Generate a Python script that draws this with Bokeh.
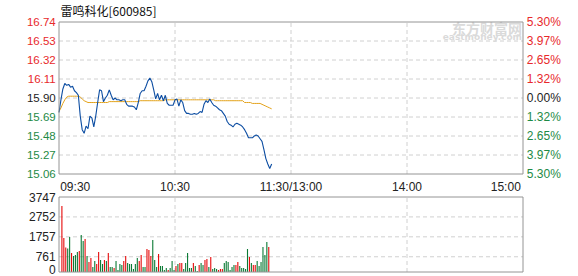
from bokeh.plotting import figure
from bokeh.models import ColumnDataSource, Range1d
from bokeh.core.properties import value
from bokeh.embed import file_html
from bokeh.resources import INLINE

# ---- data -------------------------------------------------------------
title = "雷鸣科化[600985]"
prev_close = 15.90

price_ticks = [16.74, 16.53, 16.32, 16.11, 15.90, 15.69, 15.48, 15.27, 15.06]
pct_labels = ["5.30%", "3.97%", "2.65%", "1.32%", "0.00%",
              "1.32%", "2.65%", "3.97%", "5.30%"]
time_ticks = [0, 60, 120, 180, 240]          # minutes of trading since 09:30
time_labels = ["09:30", "10:30", "11:30/13:00", "14:00", "15:00"]
vol_ticks = [3747, 2752, 1757, 761, 0]

# last trade price per minute, 09:30 .. 11:20
price = [
    15.74, 15.88, 16.00, 16.06, 16.04, 16.05, 16.02, 16.03, 15.98, 15.96,
    15.93, 15.70, 15.55, 15.51, 15.59, 15.56, 15.70, 15.68, 15.58, 15.70,
    15.85, 15.99, 15.98, 15.86, 15.90, 15.93, 15.99, 15.93, 15.88, 15.90,
    15.88, 15.88, 15.87, 15.88, 15.88, 15.83, 15.81, 15.81, 15.81, 15.80,
    15.77, 15.85, 15.95, 15.98, 15.98, 16.03, 16.09, 16.12, 16.08, 15.99,
    15.89, 15.95, 15.88, 15.93, 15.87, 15.93, 15.84, 15.82, 15.82, 15.82,
    15.88, 15.89, 15.81, 15.88, 15.85, 15.76, 15.73, 15.73, 15.72, 15.72,
    15.73, 15.72, 15.73, 15.75, 15.74, 15.83, 15.87, 15.85, 15.89, 15.85,
    15.82, 15.81, 15.79, 15.77, 15.76, 15.73, 15.70, 15.64, 15.61, 15.60,
    15.58, 15.61, 15.62, 15.61, 15.60, 15.58, 15.55, 15.51, 15.46, 15.46,
    15.46, 15.48, 15.49, 15.48, 15.45, 15.42, 15.33, 15.23, 15.17, 15.12,
    15.17,
]

# running average price per minute
avg_price = [
    15.75, 15.79, 15.84, 15.88, 15.91, 15.92, 15.92, 15.92, 15.92, 15.92,
    15.92, 15.91, 15.89, 15.87, 15.86, 15.85, 15.85, 15.85, 15.85, 15.85,
    15.85, 15.85, 15.85, 15.85, 15.85, 15.85, 15.86, 15.86, 15.86, 15.86,
    15.86, 15.86, 15.86, 15.86, 15.86, 15.86, 15.86, 15.86, 15.86, 15.86,
    15.86, 15.86, 15.87, 15.87, 15.87, 15.87, 15.87, 15.87, 15.87, 15.87,
    15.87, 15.87, 15.87, 15.87, 15.87, 15.88, 15.88, 15.88, 15.88, 15.88,
    15.88, 15.88, 15.88, 15.88, 15.88, 15.88, 15.88, 15.88, 15.88, 15.88,
    15.88, 15.88, 15.88, 15.88, 15.88, 15.88, 15.88, 15.88, 15.88, 15.88,
    15.88, 15.87, 15.87, 15.87, 15.87, 15.87, 15.87, 15.87, 15.87, 15.87,
    15.87, 15.87, 15.87, 15.87, 15.87, 15.87, 15.85, 15.85, 15.85, 15.85,
    15.84, 15.84, 15.84, 15.84, 15.84, 15.83, 15.82, 15.81, 15.80, 15.79,
    15.78,
]

# traded volume per minute (lots), minutes 1..108
volume = [
    3300, 1700, 1230, 1180, 1750, 950, 800, 850, 1000, 1050,
    1850, 1550, 1650, 800, 500, 700, 250, 550, 400, 1000,
    600, 400, 600, 550, 950, 250, 250, 200, 550, 100,
    400, 350, 550, 800, 450, 400, 400, 150, 400, 700,
    550, 850, 250, 250, 1150, 1100, 800, 1600, 600, 250,
    900, 300, 300, 100, 200, 100, 200, 550, 100, 300,
    400, 450, 450, 150, 450, 950, 200, 200, 450, 300,
    50, 350, 450, 350, 600, 650, 250, 750, 150, 200,
    150, 100, 150, 150, 450, 550, 500, 100, 250, 350,
    350, 500, 300, 200, 200, 150, 1150, 750, 450, 350,
    350, 550, 300, 500, 1250, 850, 1500, 1250,
]
# u = price ticked up in that minute, d = ticked down (one letter per bar)
vol_dir = "".join([
    "uuuddudddu",
    "dduduudduu",
    "ddududdudd",
    "dduudddddd",
    "uudduuuddd",
    "uddddudddu",
    "duudddddud",
    "dudduududd",
    "duuudddddd",
    "uudddddudu",
    "uddddddu",
])

# ---- styling ----------------------------------------------------------
RED = "#e8292b"
GREEN = "#1e8a46"
DARK = "#222222"
BAR_RED = "#e60a0a"
BAR_GREEN = "#0b7a35"
BLUE = "#0c4da2"
ORANGE = "#e3a21a"
FRAME = "#949494"
GRID = "#d0d0d0"
MARK = "#dadada"
FONT = "Liberation Sans"

W, H = 578, 276
N_MIN = 240
# panel boxes on the page (pixel centres of the border lines)
LEFT, RIGHT = 58.5, 522.5
P_TOP, P_BOT = 21.5, 173.5
V_TOP, V_BOT = 196.5, 271.5

kx = (RIGHT - LEFT) / N_MIN                                  # px per minute
ky = (P_BOT - P_TOP) / (price_ticks[0] - price_ticks[-1])     # px per yuan
kv = (V_BOT - V_TOP) / vol_ticks[0]                           # px per lot

x_range = Range1d(-LEFT / kx, (W - LEFT) / kx)
y_range = Range1d(price_ticks[0] - (H - P_TOP) / ky, price_ticks[0] + P_TOP / ky)
vol_range = Range1d(vol_ticks[0] - (H - V_TOP) / kv, vol_ticks[0] + V_TOP / kv)

p = figure(width=W, height=H, x_range=x_range, y_range=y_range,
           x_axis_type=None, y_axis_type=None,
           output_backend="svg", toolbar_location=None,
           min_border=0, min_border_left=0, min_border_right=0,
           min_border_top=0, min_border_bottom=0)
p.extra_y_ranges = {"vol": vol_range}
p.outline_line_color = None
p.background_fill_color = "white"
p.border_fill_color = "white"


def tone(v):
    if v > prev_close + 1e-9:
        return RED
    if v < prev_close - 1e-9:
        return GREEN
    return DARK


def dx(px):
    return px / kx


# ---- grids ------------------------------------------------------------
inner_t = time_ticks[1:-1]
p.segment(x0=[0] * 7, x1=[N_MIN] * 7, y0=price_ticks[1:-1], y1=price_ticks[1:-1],
          line_color=GRID, line_dash="4 3", line_width=1)
p.segment(x0=inner_t, x1=inner_t, y0=[price_ticks[-1]] * 3, y1=[price_ticks[0]] * 3,
          line_color=GRID, line_dash="4 3", line_width=1)
p.segment(x0=[0] * 3, x1=[N_MIN] * 3, y0=vol_ticks[1:-1], y1=vol_ticks[1:-1],
          line_color=GRID, line_dash="4 3", line_width=1, y_range_name="vol")
p.segment(x0=inner_t, x1=inner_t, y0=[0] * 3, y1=[vol_ticks[0]] * 3,
          line_color=GRID, line_dash="4 3", line_width=1, y_range_name="vol")

# faint site mark in the top-right corner
p.text(x=[N_MIN - dx(1)], y=[price_ticks[0] - 6 / ky], text=["东方财富网"],
       text_color=MARK, text_align="right", text_baseline="middle",
       text_font=value("Noto Sans CJK SC"), text_font_size=value("14px"),
       text_font_style="bold")
p.text(x=[N_MIN - dx(1)], y=[price_ticks[0] - 14.5 / ky], text=["eastmoney.com"],
       text_color=MARK, text_align="right", text_baseline="middle",
       text_font=value("DejaVu Sans"), text_font_size=value("9px"),
       text_font_style="bold")

# ---- price and average lines -----------------------------------------
src = ColumnDataSource(dict(t=list(range(len(price))), price=price, avg=avg_price))
p.line("t", "avg", source=src, line_color=ORANGE, line_width=1)
p.line("t", "price", source=src, line_color=BLUE, line_width=1.1)

# ---- volume bars -----------------------------------------------------
vol_src = ColumnDataSource(dict(
    x=[i + 1.5 for i in range(len(volume))], top=volume,
    color=[BAR_RED if d == "u" else BAR_GREEN for d in vol_dir]))
p.vbar(x="x", top="top", bottom=0, width=dx(1.1), source=vol_src,
       fill_color="color", line_color=None, y_range_name="vol")

# ---- panel borders ----------------------------------------------------
p.quad(left=0, right=N_MIN, bottom=price_ticks[-1], top=price_ticks[0],
       fill_color=None, line_color=FRAME, line_width=1)
p.quad(left=0, right=N_MIN, bottom=0, top=vol_ticks[0],
       fill_color=None, line_color=FRAME, line_width=1, y_range_name="vol")

# ---- scale labels -----------------------------------------------------
left_src = ColumnDataSource(dict(
    x=[dx(-3.3)] * len(price_ticks), y=price_ticks,
    text=[f"{v:.2f}" for v in price_ticks], color=[tone(v) for v in price_ticks]))
p.text("x", "y", text="text", source=left_src, text_color="color",
       text_align="right", text_baseline="middle",
       text_font=value(FONT), text_font_size=value("11.5px"))

right_src = ColumnDataSource(dict(
    x=[N_MIN + dx(3.8)] * len(price_ticks), y=price_ticks,
    text=pct_labels, color=[tone(v) for v in price_ticks]))
p.text("x", "y", text="text", source=right_src, text_color="color",
       text_align="left", text_baseline="middle",
       text_font=value(FONT), text_font_size=value("12px"))

# the bottom volume label is lifted so it stays on the page
vol_lab = ColumnDataSource(dict(
    x=[dx(-3.3)] * len(vol_ticks), y=vol_ticks, text=[str(t) for t in vol_ticks],
    dy=[0.5, 0, 0, 0, -2.6]))
p.text("x", "y", text="text", source=vol_lab, text_color=DARK, y_offset="dy",
       text_align="right", text_baseline="middle", y_range_name="vol",
       text_font=value(FONT), text_font_size=value("12px"))

# time labels between the panels: outer ones kept inside the panel edges
t_y = price_ticks[-1] - 13.2 / ky
t_src = ColumnDataSource(dict(
    x=[time_ticks[0] + dx(1.2)] + inner_t + [time_ticks[-1] - dx(2.2)],
    y=[t_y] * len(time_ticks), text=time_labels,
    align=["left", "center", "center", "center", "right"]))
p.text("x", "y", text="text", source=t_src, text_color=DARK,
       text_align="align", text_baseline="middle",
       text_font=value(FONT), text_font_size=value("12px"))

# title
p.text(x=[dx(1.5)], y=[price_ticks[0] + 11.5 / ky], text=[title], text_color="#111111",
       text_align="left", text_baseline="middle",
       text_font=value("Noto Sans CJK SC"), text_font_size=value("12px"))

open("out.html", "w").write(file_html(p, INLINE))
